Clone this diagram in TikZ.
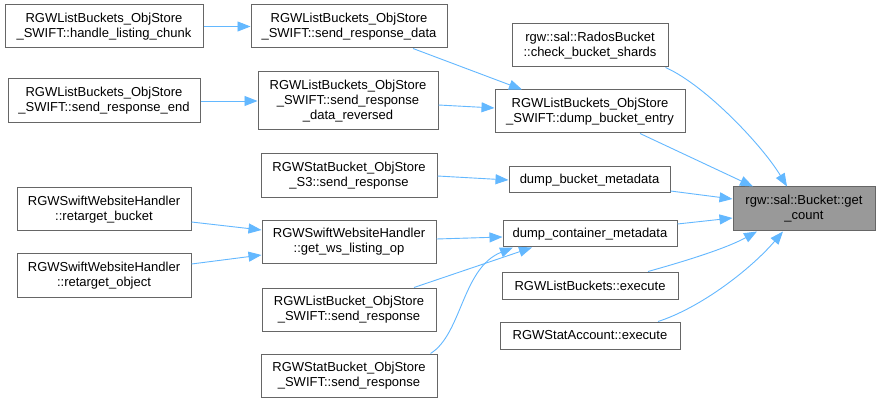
\documentclass[tikz,border=0pt]{standalone}
\usepackage{fontspec}
\setmainfont{Liberation Sans}
\usetikzlibrary{arrows.meta,calc}
\definecolor{edgeblue}{HTML}{63B8FF}
\definecolor{boxborder}{HTML}{666666}
\definecolor{hilite}{HTML}{999999}
\tikzset{
  fbox/.style={draw=boxborder, line width=1pt, fill=white, align=center, inner sep=0pt,
    font=\fontsize{13}{15}\selectfont},
  hbox/.style={fbox, fill=hilite},
  edge/.style={draw=edgeblue, line width=0.9pt, -{Triangle[length=13pt,width=10pt]}}
}
\begin{document}
\begin{tikzpicture}[x=1pt,y=-1pt]
\useasboundingbox[fill=white] (0,0) rectangle (880,403);
% nodes
\node[fbox, minimum width=198, minimum height=43] (hlc) at (104,26.5) {RGWListBuckets\_ObjStore\\\_SWIFT::handle\_listing\_chunk};
\node[fbox, minimum width=196, minimum height=43] (srd) at (349,26.5) {RGWListBuckets\_ObjStore\\\_SWIFT::send\_response\_data};
\node[fbox, minimum width=192, minimum height=44] (sre) at (104,101) {RGWListBuckets\_ObjStore\\\_SWIFT::send\_response\_end};
\node[fbox, minimum width=180, minimum height=58] (srdr) at (348,101) {RGWListBuckets\_ObjStore\\\_SWIFT::send\_response\\\_data\_reversed};
\node[fbox, minimum width=156, minimum height=43] (cbs) at (590,45.5) {rgw::sal::RadosBucket\\::check\_bucket\_shards};
\node[fbox, minimum width=190, minimum height=43] (dbe) at (590,111.5) {RGWListBuckets\_ObjStore\\\_SWIFT::dump\_bucket\_entry};
\node[fbox, minimum width=176, minimum height=44] (s3) at (349,176) {RGWStatBucket\_ObjStore\\\_S3::send\_response};
\node[fbox, minimum width=174, minimum height=43] (rb) at (104,209.5) {RGWSwiftWebsiteHandler\\::retarget\_bucket};
\node[fbox, minimum width=174, minimum height=43] (ws) at (349,242) {RGWSwiftWebsiteHandler\\::get\_ws\_listing\_op};
\node[fbox, minimum width=161, minimum height=26] (dbm) at (589.5,180) {dump\_bucket\_metadata};
\node[hbox, minimum width=142, minimum height=44] (gc) at (804,209) {rgw::sal::Bucket::get\\\_count};
\node[fbox, minimum width=174, minimum height=26] (dcm) at (590,234) {dump\_container\_metadata};
\node[fbox, minimum width=174, minimum height=43] (ro) at (104,275.5) {RGWSwiftWebsiteHandler\\::retarget\_object};
\node[fbox, minimum width=174, minimum height=43] (lbs) at (349,309.5) {RGWListBucket\_ObjStore\\\_SWIFT::send\_response};
\node[fbox, minimum width=176, minimum height=43] (sbs) at (349,375.5) {RGWStatBucket\_ObjStore\\\_SWIFT::send\_response};
\node[fbox, minimum width=176, minimum height=27] (lbe) at (590,285.5) {RGWListBuckets::execute};
\node[fbox, minimum width=180, minimum height=27] (sae) at (590,335.5) {RGWStatAccount::execute};
% edges
\draw[edge] (hlc) -- (srd);
\draw[edge] (sre) -- (srdr);
\draw[edge] ([xshift=64pt]srd.south) -- ([xshift=-68pt]dbe.north);
\draw[edge] ([yshift=-4pt]srdr.east) -- ([yshift=3.5pt]dbe.west);
\draw[edge] ([xshift=-3pt]cbs.south east) .. controls (705,85) and (762,145) .. ([xshift=-17pt]gc.north);
\draw[edge] ([xshift=50pt]dbe.south) -- ([xshift=-51pt]gc.north);
\draw[edge] (s3.east) -- (dbm.west);
\draw[edge] ([yshift=-11pt]dbm.east) -- ([yshift=10pt]gc.west);
\draw[edge] ([yshift=10pt]dcm.east) -- ([yshift=-9pt]gc.west);
\draw[edge] ([yshift=-12.5pt]rb.east) -- ([yshift=12pt]ws.west);
\draw[edge] ([yshift=11.5pt]ro.east) -- ([yshift=-13pt]ws.west);
\draw[edge] ([yshift=3pt]ws.east) -- ([yshift=-3pt]dcm.west);
\draw[edge] ([xshift=65pt]lbs.north) -- ([xshift=-58pt]dcm.south);
\draw[edge] ([xshift=-7pt]sbs.north east) .. controls (462,334) and (462,268) .. ([xshift=-77pt]dcm.south);
\draw[edge] ([xshift=58pt]lbe.north) .. controls (682,262) and (725,249) .. ([xshift=-47pt]gc.south);
\draw[edge] ([xshift=68pt]sae.north) .. controls (700,308) and (750,270) .. ([xshift=-21pt]gc.south);
\end{tikzpicture}
\end{document}
